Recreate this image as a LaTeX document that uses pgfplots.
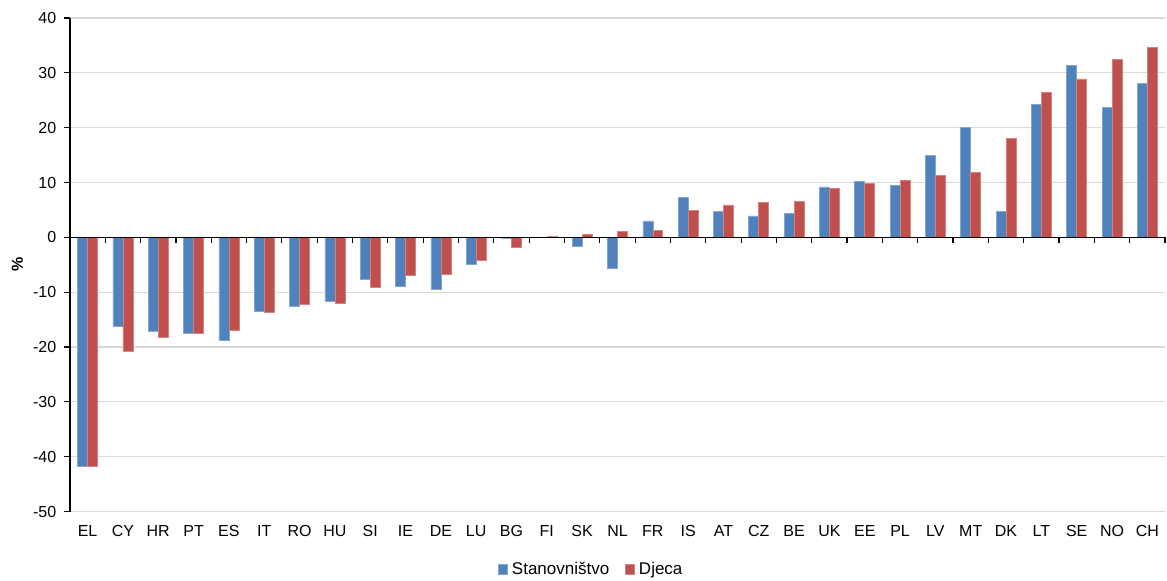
\documentclass[border=0pt]{standalone}
\usepackage{pgfplots}
\pgfplotsset{compat=1.18}
\usepackage{pgfplotstable}
\usepackage{fontspec}
\setmainfont{Liberation Sans}

\definecolor{popblue}{HTML}{4F81BD}
\definecolor{kidred}{HTML}{C0504D}

% change in population and in number of children, %
\pgfplotstableread{
x  cc  pop    kid
0  EL  -41.7  -41.8
1  CY  -16.3  -20.7
2  HR  -17.2  -18.3
3  PT  -17.5  -17.5
4  ES  -18.8  -16.9
5  IT  -13.5  -13.7
6  RO  -12.5  -12.3
7  HU  -11.7  -12.0
8  SI  -7.7   -9.1
9  IE  -9.0   -6.9
10 DE  -9.4   -6.7
11 LU  -4.9   -4.2
12 BG  -0.1   -1.8
13 FI  0.0    0.1
14 SK  -1.6   0.5
15 NL  -5.7   1.1
16 FR  3.0    1.2
17 IS  7.3    4.9
18 AT  4.7    5.9
19 CZ  3.9    6.3
20 BE  4.3    6.5
21 UK  9.2    8.9
22 EE  10.2   9.8
23 PL  9.5    10.4
24 LV  15.0   11.3
25 MT  20.1   11.9
26 DK  4.8    18.0
27 LT  24.3   26.4
28 SE  31.4   28.9
29 NO  23.7   32.4
30 CH  28.0   34.7
}\datatab

\begin{document}
\fontsize{8}{9.6}\selectfont
\begin{tikzpicture}
\begin{axis}[
    scale only axis,
    width=548pt, height=247pt,
    xmin=-0.5, xmax=30.5,
    ymin=-50, ymax=40,
    ytick={-50,-40,...,40},
    ymajorgrids,
    grid style={gray!30, line width=0.6pt},
    axis y line*=left,
    axis x line*=bottom,
    x axis line style={draw=none},
    y axis line style={black, line width=0.6pt},
    ytick align=outside,
    ytick style={black, line width=0.6pt},
    major tick length=3pt,
    xtick=data,
    xticklabels from table={\datatab}{cc},
    xtick style={draw=none},
    xticklabel style={yshift=-1pt},
    yticklabel style={xshift=-1pt},
    ylabel={\textbf{\%}},
    ylabel style={at={(axis description cs:-0.048,0.5)}, anchor=center},
    ybar=0pt, bar width=5pt,
    /pgf/number format/assume math mode=true,
    legend style={draw=none, at={(0.477,-0.117)}, anchor=center,
        legend columns=2, font=\fontsize{8.5}{10}\selectfont,
        inner sep=1pt,
        /tikz/every even column/.append style={column sep=6pt}},
    legend image code/.code={\fill[#1] (0pt,-2.3pt) rectangle (4.6pt,2.3pt);},
]
\addplot[fill=popblue, draw=popblue!70!white, line width=0.3pt] table[x=x, y=pop] {\datatab};
\addplot[fill=kidred, draw=kidred!70!white, line width=0.3pt] table[x=x, y=kid] {\datatab};
\legend{Stanovništvo, Djeca}
\end{axis}
\begin{axis}[
    scale only axis,
    width=548pt, height=247pt,
    xmin=-0.5, xmax=30.5,
    ymin=-50, ymax=40,
    axis y line=none,
    axis x line=middle,
    axis line style={-, black, line width=0.6pt},
    xtick={-0.5,0.5,...,30.5},
    xticklabels={},
    xtick align=outside,
    xtick style={black, line width=0.6pt},
    major tick length=3pt,
]
\end{axis}
\pgfresetboundingbox
\path[use as bounding box] ([shift={(-35pt,-34.5pt)}]current axis.south west)
    rectangle ([shift={(1pt,9pt)}]current axis.north east);
\end{tikzpicture}
\end{document}
